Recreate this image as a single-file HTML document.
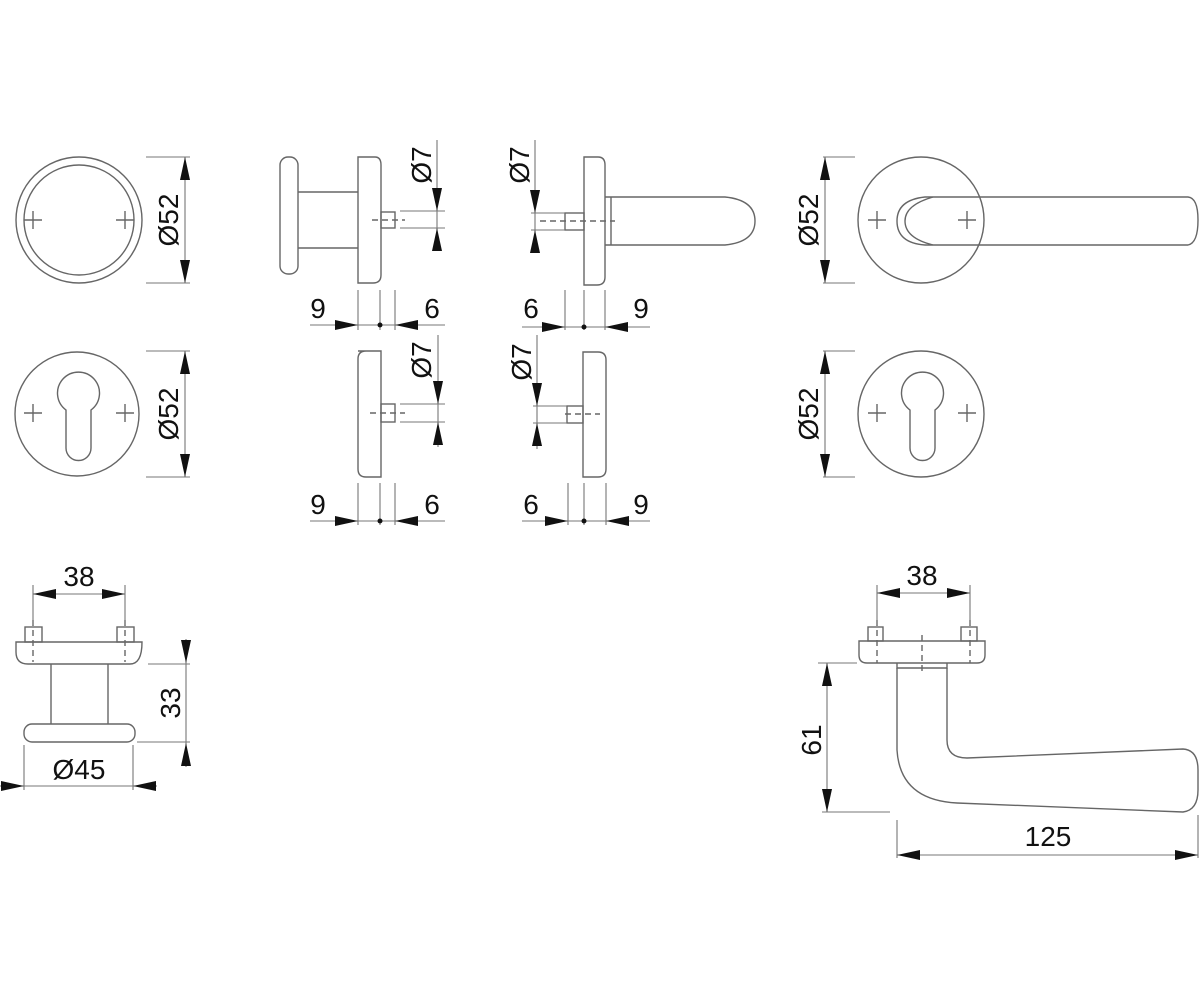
<!DOCTYPE html>
<html><head><meta charset="utf-8"><style>
html,body{margin:0;padding:0;background:#fff;}
svg{display:block;}
text{font-family:"Liberation Sans",sans-serif;font-size:28px;fill:#111;}
</style></head><body>
<svg width="1200" height="1000" viewBox="0 0 1200 1000" xmlns="http://www.w3.org/2000/svg">
<g fill="none" stroke="#666" stroke-width="1.4">
<!-- row1 left rose -->
<circle cx="79" cy="220" r="63"/><circle cx="79" cy="220" r="55"/>
<path d="M24 220H42M33 211V229M116 220H134M125 211V229"/>
<!-- knob side view -->
<rect x="280" y="157" width="18" height="117" rx="8"/>
<path d="M358 157H375Q381 157 381 165V275Q381 283 373 283H358Z"/>
<path d="M298 192H358M298 248H358"/>
<rect x="381" y="212" width="14" height="16"/>
<path d="M372 220H405" stroke-dasharray="6,4"/>
<!-- lever side view -->
<path d="M584 157H598Q605 157 605 165V277Q605 285 597 285H584Z"/>
<rect x="565" y="213" width="19" height="17"/>
<path d="M605 197H611V245H605M611 197H725Q755 200 755 221Q755 242 725 245H611"/>
<path d="M540 221H615" stroke-dasharray="6,4"/>
<!-- lever top view -->
<circle cx="921" cy="220" r="63"/>
<path d="M933 197H1188Q1198 198 1198 220Q1198 243 1188 245H933"/>
<path d="M933 197H925Q897 200 897 221Q897 243 925 245H933"/>
<path d="M933 197Q905 205 905 221Q905 238 933 245"/>
<path d="M868 220H886M877 211V229M958 220H976M967 211V229"/>
<!-- row2 escutcheons -->
<circle cx="77" cy="414" r="62"/>
<path d="M66 410A21 21 0 1 1 91 410V448A12.5 12.5 0 0 1 66 448Z"/>
<path d="M24 413H42M33 404V422M116 413H134M125 404V422"/>
<circle cx="921" cy="414" r="63"/>
<path d="M910 410A21 21 0 1 1 935 410V448A12.5 12.5 0 0 1 910 448Z"/>
<path d="M868 413H886M877 404V422M958 413H976M967 404V422"/>
<!-- row2 side views -->
<path d="M358 351H381V477H366Q358 477 358 469V359Q358 351 366 351Z"/>
<rect x="381" y="404" width="14" height="18"/>
<path d="M370 413H405" stroke-dasharray="6,4"/>
<path d="M583 352H598Q606 352 606 360V469Q606 477 598 477H583Z"/>
<rect x="567" y="406" width="16" height="17"/>
<path d="M565 414H600" stroke-dasharray="6,4"/>
<!-- bottom left knob -->
<path d="M16 642H142Q142 664 130 664H28Q16 664 16 652Z"/>
<rect x="25" y="627" width="17" height="15"/><rect x="117" y="627" width="17" height="15"/>
<path d="M33 620V662M125 620V662" stroke-dasharray="6,4"/>
<path d="M51 664V724M108 664V724"/>
<rect x="24" y="724" width="111" height="18" rx="8"/>
<!-- bottom right lever -->
<path d="M859 641H985V655Q985 663 977 663H867Q859 663 859 655Z"/>
<rect x="868" y="627" width="15" height="14"/><rect x="961" y="627" width="16" height="14"/>
<path d="M877 620V663M970 620V663M922 635V675" stroke-dasharray="6,4"/>
<path d="M897 663V668H947V663"/>
<path d="M897 668V750Q900 800 957 803L1183 812Q1198 810 1198 790V770Q1198 750 1183 749L967 758Q947 758 947 740V668"/>
</g>
<!-- dimension lines -->
<g fill="none" stroke="#777" stroke-width="1.1">
<path d="M146 157H190M146 283H190M185 157V283"/>
<path d="M400 211H445M400 228H445M437 140V250"/>
<path d="M358 290V330M380 290V330M395 290V330M310 325H445"/>
<path d="M531 213H565M531 230H565M535 140V252"/>
<path d="M565 290V330M584 290V330M605 290V330M522 327H650"/>
<path d="M823 157H855M823 283H855M825 157V283"/>
<path d="M146 351H190M146 477H190M185 351V477"/>
<path d="M823 351H855M823 477H855M825 351V477"/>
<path d="M400 404H445M400 422H445M438 335V447"/>
<path d="M358 483V525M380 483V525M395 483V525M310 521H445"/>
<path d="M533 406H567M533 423H567M537 335V449"/>
<path d="M568 483V525M584 483V525M606 483V525M522 521H650"/>
<path d="M33 585V625M125 585V625M33 594H125"/>
<path d="M148 664H190M137 742H190M186 639V767"/>
<path d="M24 745V790M133 745V790M0 786H157"/>
<path d="M877 585V625M970 585V625M877 593H970"/>
<path d="M818 663H857M822 812H890M827 663V812"/>
<path d="M897 820V858M1198 815V858M897 855H1198"/>
</g>
<g fill="#111">
<polygon points="185,157 180,180 190,180"/><polygon points="185,283 180,260 190,260"/>
<polygon points="437,211 432,188 442,188"/><polygon points="437,228 432,251 442,251"/>
<polygon points="358,325 335,320 335,330"/><polygon points="395,325 418,320 418,330"/>
<circle cx="380" cy="325" r="2.5"/>
<polygon points="535,213 530,190 540,190"/><polygon points="535,230 530,253 540,253"/>
<polygon points="565,327 542,322 542,332"/><polygon points="605,327 628,322 628,332"/>
<circle cx="584" cy="327" r="2.5"/>
<polygon points="825,157 820,180 830,180"/><polygon points="825,283 820,260 830,260"/>
<polygon points="185,351 180,374 190,374"/><polygon points="185,477 180,454 190,454"/>
<polygon points="825,351 820,374 830,374"/><polygon points="825,477 820,454 830,454"/>
<polygon points="438,404 433,381 443,381"/><polygon points="438,422 433,445 443,445"/>
<polygon points="358,521 335,516 335,526"/><polygon points="395,521 418,516 418,526"/>
<circle cx="380" cy="521" r="2.5"/>
<polygon points="537,406 532,383 542,383"/><polygon points="537,423 532,446 542,446"/>
<polygon points="568,521 545,516 545,526"/><polygon points="606,521 629,516 629,526"/>
<circle cx="584" cy="521" r="2.5"/>
<polygon points="33,594 56,589 56,599"/><polygon points="125,594 102,589 102,599"/>
<polygon points="186,663 181,640 191,640"/><polygon points="186,743 181,766 191,766"/>
<polygon points="24,786 1,781 1,791"/><polygon points="133,786 156,781 156,791"/>
<polygon points="877,593 900,588 900,598"/><polygon points="970,593 947,588 947,598"/>
<polygon points="827,663 822,686 832,686"/><polygon points="827,812 822,789 832,789"/>
<polygon points="897,855 920,850 920,860"/><polygon points="1198,855 1175,850 1175,860"/>
</g>
<g>
<text transform="translate(178,220) rotate(-90)" text-anchor="middle">Ø52</text>
<text transform="translate(818,220) rotate(-90)" text-anchor="middle">Ø52</text>
<text transform="translate(178,414) rotate(-90)" text-anchor="middle">Ø52</text>
<text transform="translate(818,414) rotate(-90)" text-anchor="middle">Ø52</text>
<text transform="translate(431,165) rotate(-90)" text-anchor="middle">Ø7</text>
<text transform="translate(529,165) rotate(-90)" text-anchor="middle">Ø7</text>
<text transform="translate(431,360) rotate(-90)" text-anchor="middle">Ø7</text>
<text transform="translate(531,362) rotate(-90)" text-anchor="middle">Ø7</text>
<text x="318" y="318" text-anchor="middle">9</text><text x="432" y="318" text-anchor="middle">6</text>
<text x="531" y="318" text-anchor="middle">6</text><text x="641" y="318" text-anchor="middle">9</text>
<text x="318" y="514" text-anchor="middle">9</text><text x="432" y="514" text-anchor="middle">6</text>
<text x="531" y="514" text-anchor="middle">6</text><text x="641" y="514" text-anchor="middle">9</text>
<text x="79" y="586" text-anchor="middle">38</text>
<text x="922" y="585" text-anchor="middle">38</text>
<text transform="translate(180,703) rotate(-90)" text-anchor="middle">33</text>
<text x="79" y="779" text-anchor="middle">Ø45</text>
<text transform="translate(821,740) rotate(-90)" text-anchor="middle">61</text>
<text x="1048" y="846" text-anchor="middle">125</text>
</g>
</svg>
</body></html>
